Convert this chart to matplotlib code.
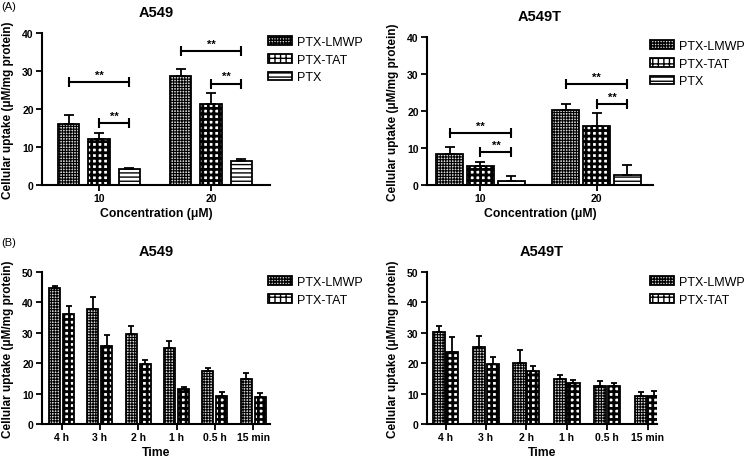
import numpy as np
import matplotlib
matplotlib.use('Agg')
import matplotlib.pyplot as plt

plt.rcParams['font.family'] = ['Liberation Sans', 'DejaVu Sans']
plt.rcParams['hatch.linewidth'] = 1.0

# ---- data ----
conc_labels = ['10', '20']
series_conc = ['PTX-LMWP', 'PTX-TAT', 'PTX']

a549_conc = [[16.0, 28.7], [12.2, 21.3], [4.1, 6.3]]
a549_conc_err = [[2.4, 1.9], [1.6, 2.9], [0.5, 0.6]]
a549_sig_long = [27.0, 35.2]
a549_sig_short = [16.2, 26.7]

a549t_conc = [[8.5, 20.2], [5.2, 16.0], [1.2, 2.7]]
a549t_conc_err = [[1.7, 1.8], [0.9, 3.4], [1.2, 2.7]]
a549t_sig_long = [14.0, 27.2]
a549t_sig_short = [8.8, 21.8]

time_labels = ['4 h', '3 h', '2 h', '1 h', '0.5 h', '15 min']
series_time = ['PTX-LMWP', 'PTX-TAT']

a549_time = [[44.7, 37.7, 29.7, 25.1, 17.3, 14.8],
             [36.3, 25.6, 19.6, 11.5, 9.3, 8.8]]
a549_time_err = [[0.6, 4.1, 2.4, 2.2, 1.2, 1.9],
                 [2.4, 3.7, 1.3, 0.6, 1.1, 1.3]]

a549t_time = [[30.4, 25.2, 20.0, 14.8, 12.4, 9.3],
              [23.8, 19.7, 17.4, 13.5, 12.6, 9.3]]
a549t_time_err = [[1.7, 3.9, 4.5, 1.4, 1.9, 1.1],
                  [4.7, 2.2, 1.8, 1.1, 0.8, 1.4]]

STYLE = {
    'PTX-LMWP': dict(facecolor='#d8d8d8', hatch='++++++', hlw=0.8),
    'PTX-TAT': dict(facecolor='white', hatch='+++', hlw=2.0),
    'PTX': dict(facecolor='white', hatch='----', hlw=1.0),
}

W, H = 745, 460
fig = plt.figure(figsize=(W / 100, H / 100), dpi=100)


def add_axes(l, t, r, b):
    return fig.add_axes([l / W, 1 - b / H, (r - l) / W, (b - t) / H])


def style_bars(bars, name):
    st = STYLE[name]
    for b in bars:
        b.set_facecolor(st['facecolor'])
        b.set_hatch(st['hatch'])
        try:
            b.set_hatch_linewidth(st['hlw'])
        except AttributeError:
            pass


def draw_bars(ax, names, vals, errs, width, offsets, capsize):
    x = np.arange(len(vals[0]))
    for name, v, e, off in zip(names, vals, errs, offsets):
        bars = ax.bar(x + off, v, width, edgecolor='black', linewidth=1.3, label=name)
        style_bars(bars, name)
        ax.errorbar(x + off, v, yerr=[np.zeros(len(v)), e], fmt='none', ecolor='black',
                    elinewidth=1.3, capsize=capsize, capthick=1.3, zorder=3)
    return x


def finish_axes(ax, title, xlabel, ylim, yticks, xticks, xlabels, xlim):
    ax.set_xlim(*xlim)
    ax.set_ylim(*ylim)
    ax.set_yticks(yticks)
    ax.set_xticks(xticks)
    ax.set_xticklabels(xlabels)
    for s in ['top', 'right']:
        ax.spines[s].set_visible(False)
    for s in ['left', 'bottom']:
        ax.spines[s].set_linewidth(1.5)
    ax.tick_params(direction='out', length=4, width=1.3, labelsize=7.5, pad=2)
    for lab in ax.get_xticklabels() + ax.get_yticklabels():
        lab.set_fontweight('bold')
    ax.set_title(title, fontsize=10.5, fontweight='bold', pad=12)
    ax.set_xlabel(xlabel, fontsize=8.8, fontweight='bold', labelpad=3)
    ax.set_ylabel('Cellular uptake (\u03bcM/mg protein)', fontsize=8.5, fontweight='bold', labelpad=6)


def add_legend(ax, x_px, y_px):
    ax.legend(loc='upper left', bbox_to_anchor=(x_px / W, 1 - y_px / H),
              bbox_transform=fig.transFigure, frameon=False, fontsize=9,
              handlelength=1.9, handleheight=0.7, handletextpad=0.4,
              labelspacing=0.45, borderpad=0, borderaxespad=0)


def sig_bracket(ax, x1, x2, y, dy):
    ax.plot([x1, x2], [y, y], color='black', lw=1.5, zorder=4)
    ax.plot([x1, x2], [y, y], ls='none', marker='|', ms=7, mew=1.5, color='black', zorder=4)
    ax.text((x1 + x2) / 2, y + dy, '**', ha='center', va='bottom', fontsize=8,
            fontweight='bold')


# ---- (A) concentration panels ----
panels_a = [
    (add_axes(42, 34, 270, 186), 'A549', a549_conc, a549_conc_err, a549_sig_long, a549_sig_short,
     0.19, 0.272, (-0.509, 1.527), (268, 37)),
    (add_axes(427, 38, 653, 186), 'A549T', a549t_conc, a549t_conc_err, a549t_sig_long, a549t_sig_short,
     0.225, 0.267, (-0.461, 1.487), (650, 41)),
]
for ax, title, vals, errs, sl, ss, width, off, xlim, leg in panels_a:
    x = draw_bars(ax, series_conc, vals, errs, width, [-off, 0, off], 3.8)
    for i in range(len(x)):
        sig_bracket(ax, x[i] - off, x[i] + off, sl[i], 0.6)
        sig_bracket(ax, x[i], x[i] + off, ss[i], 0.6)
    finish_axes(ax, title, 'Concentration (\u03bcM)', (0, 40), [0, 10, 20, 30, 40],
                x, conc_labels, xlim)
    add_legend(ax, *leg)

# ---- (B) time panels ----
panels_b = [
    (add_axes(42, 273, 270, 425), 'A549', a549_time, a549_time_err, 0.29, 0.183,
     (-0.51, 5.44), (268, 277)),
    (add_axes(427, 273, 657, 425), 'A549T', a549t_time, a549t_time_err, 0.30, 0.167,
     (-0.458, 5.235), (650, 277)),
]
for ax, title, vals, errs, width, off, xlim, leg in panels_b:
    x = draw_bars(ax, series_time, vals, errs, width, [-off, off], 2.3)
    finish_axes(ax, title, 'Time', (0, 50), [0, 10, 20, 30, 40, 50], x, time_labels, xlim)
    add_legend(ax, *leg)

fig.text(1 / W, 1 - 2 / H, '(A)', fontsize=8, va='top', ha='left')
fig.text(1 / W, 1 - 238 / H, '(B)', fontsize=8, va='top', ha='left')

fig.savefig('out.png', dpi=100)
